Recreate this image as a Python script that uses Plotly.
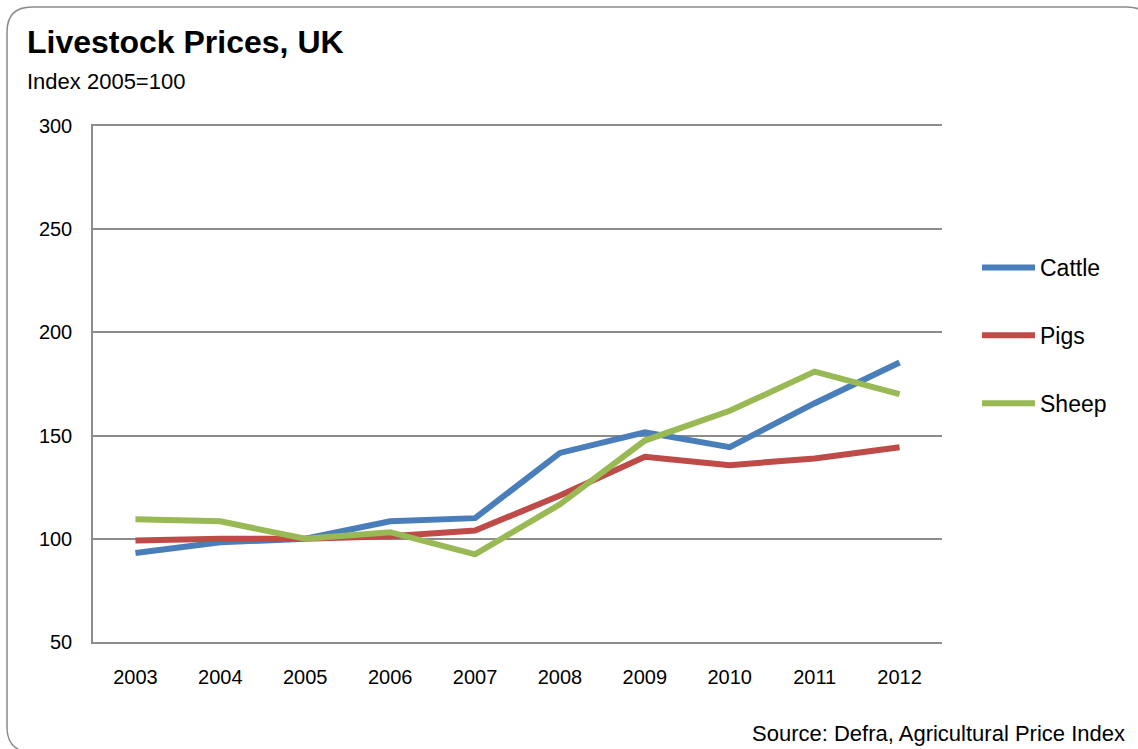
import plotly.graph_objects as go

years = ["2003", "2004", "2005", "2006", "2007", "2008", "2009", "2010", "2011", "2012"]
cattle = [93.1, 98.3, 100, 108.5, 110.0, 141.6, 151.6, 144.4, 165.7, 185.4]
pigs = [99.2, 100.0, 100, 101.2, 104.0, 121.0, 139.7, 135.7, 138.9, 144.4]
sheep = [109.5, 108.5, 100, 103.2, 92.5, 116.7, 147.6, 162.0, 181.0, 170.1]

series = [("Cattle", cattle, "#4A7EBB"), ("Pigs", pigs, "#BE4B48"), ("Sheep", sheep, "#98B954")]

W, H = 1138, 749
L, R, T, B = 93, 196, 126, 107
pw, ph = W - L - R, H - T - B
grid = "#8c8c8c"

fig = go.Figure()
for name, vals, col in series:
    fig.add_trace(go.Scatter(x=years, y=vals, mode="lines", name=name,
                             legendgroup=name,
                             line=dict(color=col, width=6)))


# pixel -> paper coords
def px(x):
    return (x - L) / pw


def py(y):
    return (H - B - y) / ph


# rounded frame, runs off the right and bottom edges like the original
x0, y0, x1, y1, r = 7, 7, 1152, 752, 25
path = (f"M {px(x0 + r)},{py(y0)} L {px(x1 - r)},{py(y0)} "
        f"Q {px(x1)},{py(y0)} {px(x1)},{py(y0 + r)} L {px(x1)},{py(y1 - r)} "
        f"Q {px(x1)},{py(y1)} {px(x1 - r)},{py(y1)} L {px(x0 + r)},{py(y1)} "
        f"Q {px(x0)},{py(y1)} {px(x0)},{py(y1 - r)} L {px(x0)},{py(y0 + r)} "
        f"Q {px(x0)},{py(y0)} {px(x0 + r)},{py(y0)} Z")
fig.add_shape(type="path", xref="paper", yref="paper", path=path,
              line=dict(color="#8a8a8a", width=1.5), layer="below")

fig.update_layout(
    width=W, height=H,
    margin=dict(l=L, r=R, t=T, b=B),
    paper_bgcolor="white", plot_bgcolor="white",
    font=dict(family="Liberation Sans, Arial, sans-serif", color="#000000", size=20),
    showlegend=True,
    legend=dict(x=px(977), xanchor="left", y=py(246), yanchor="top",
                font=dict(size=23), tracegroupgap=35, itemwidth=53,
                bgcolor="rgba(0,0,0,0)"),
    xaxis=dict(type="category", range=[-0.5, 9.5], showgrid=False,
               showline=True, mirror=True, linecolor=grid, linewidth=1.5,
               ticks="", ticklabelstandoff=16, tickfont=dict(size=20)),
    yaxis=dict(range=[50, 300], dtick=50, showgrid=True, gridcolor=grid,
               gridwidth=1.5, showline=True, linecolor=grid, linewidth=1.5,
               zeroline=False, ticks="", ticklabelstandoff=15,
               tickfont=dict(size=20)),
)

fig.add_annotation(text="<b>Livestock Prices, UK</b>", xref="paper", yref="paper",
                   x=px(25), y=py(42), xanchor="left", yanchor="middle",
                   showarrow=False, font=dict(size=32))
fig.add_annotation(text="Index 2005=100", xref="paper", yref="paper",
                   x=px(25), y=py(81), xanchor="left", yanchor="middle",
                   showarrow=False, font=dict(size=22))
fig.add_annotation(text="Source: Defra, Agricultural Price Index", xref="paper", yref="paper",
                   x=px(1127), y=py(733), xanchor="right", yanchor="middle",
                   showarrow=False, font=dict(size=22))

fig.write_html("out.html", config={"displayModeBar": False},
               post_script="document.body.style.margin = '0';")
